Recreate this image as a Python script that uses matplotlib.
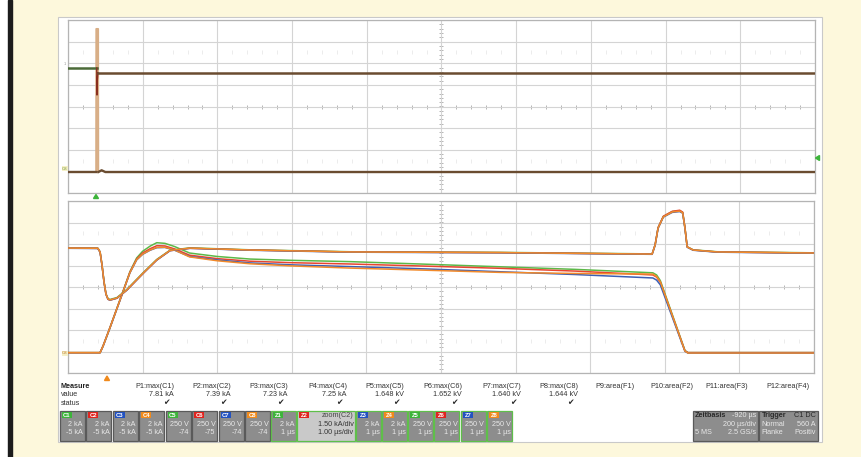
import numpy as np
import matplotlib
matplotlib.use("Agg")
import matplotlib.pyplot as plt
from matplotlib.patches import Rectangle, Polygon

plt.rcParams['font.family'] = ['Liberation Sans', 'DejaVu Sans']

W, H = 862, 457

# ---------------- data (screen divisions) ----------------
# upper window: main timebase 200 us/div
t_top_v = [0.0, 0.385, 0.388, 0.392, 0.400, 10.0]
v_top = [1.78, 1.78, 0.53, 1.20, 1.56, 1.56]
t_top_i = [0.0, 0.376, 0.378, 0.404, 0.406, 0.45, 0.50, 10.0]
i_top = [-3.03, -3.03, 3.59, 3.59, -3.03, -2.95, -3.03, -3.03]

# lower window: zoom 1 us/div, currents C1..C4
t_cur = [0.00, 0.43, 0.47, 0.56, 0.72, 0.83, 0.92, 1.00, 1.10, 1.19, 1.30, 1.43, 1.63,
         2.00, 2.44, 3.00, 3.78, 4.80, 5.79, 6.80, 7.84, 7.89, 7.94, 8.27, 8.31, 10.00]
i_c1 = [-3.05, -3.05, -2.74, -1.91, -0.37, 0.71, 1.35, 1.66, 1.90, 2.06, 2.03, 1.88, 1.58,
        1.42, 1.30, 1.24, 1.18, 1.06, 0.94, 0.82, 0.66, 0.56, 0.30, -2.95, -3.05, -3.05]
i_c2 = [-3.05, -3.05, -2.74, -1.91, -0.38, 0.69, 1.30, 1.58, 1.78, 1.92, 1.91, 1.77, 1.48,
        1.32, 1.20, 1.13, 1.07, 0.97, 0.87, 0.74, 0.56, 0.46, 0.22, -2.97, -3.05, -3.05]
i_c3 = [-3.06, -3.06, -2.76, -1.93, -0.40, 0.66, 1.26, 1.52, 1.71, 1.83, 1.84, 1.71, 1.42,
        1.26, 1.12, 1.03, 0.95, 0.84, 0.71, 0.58, 0.42, 0.32, 0.10, -2.99, -3.07, -3.07]
i_c4 = [-3.06, -3.06, -2.75, -1.92, -0.39, 0.67, 1.27, 1.53, 1.72, 1.84, 1.85, 1.72, 1.40,
        1.22, 1.08, 0.98, 0.88, 0.78, 0.68, 0.63, 0.60, 0.49, 0.24, -2.98, -3.07, -3.07]

# voltages C5..C8
t_volt = [0.00, 0.40, 0.43, 0.456, 0.483, 0.509, 0.536, 0.563, 0.657, 0.787, 1.009, 1.189,
          1.367, 1.635, 2.44, 3.78, 5.79, 7.83, 7.87, 7.91, 7.98, 8.10, 8.20, 8.24, 8.27,
          8.30, 8.38, 8.70, 10.00]
v_c5 = [1.82, 1.81, 1.64, 1.04, 0.25, -0.31, -0.54, -0.58, -0.49, -0.12, 0.67, 1.28, 1.71,
        1.82, 1.73, 1.64, 1.61, 1.54, 1.96, 2.76, 3.28, 3.51, 3.55, 3.47, 2.76, 1.87, 1.73,
        1.64, 1.59]
v_c6 = [1.81, 1.80, 1.62, 1.01, 0.22, -0.34, -0.57, -0.61, -0.52, -0.15, 0.64, 1.25, 1.69,
        1.80, 1.72, 1.63, 1.60, 1.53, 1.96, 2.76, 3.29, 3.52, 3.57, 3.48, 2.76, 1.87, 1.72,
        1.63, 1.58]
v_c7 = [1.80, 1.79, 1.62, 1.01, 0.22, -0.34, -0.57, -0.61, -0.52, -0.15, 0.64, 1.25, 1.69,
        1.80, 1.71, 1.62, 1.59, 1.52, 1.94, 2.73, 3.25, 3.47, 3.51, 3.43, 2.73, 1.85, 1.71,
        1.62, 1.57]
v_c8 = [1.81, 1.80, 1.63, 1.02, 0.23, -0.33, -0.56, -0.60, -0.51, -0.14, 0.65, 1.26, 1.70,
        1.81, 1.72, 1.63, 1.60, 1.53, 1.95, 2.74, 3.26, 3.49, 3.53, 3.45, 2.74, 1.86, 1.72,
        1.63, 1.58]

meas_headers = ["P1:max(C1)", "P2:max(C2)", "P3:max(C3)", "P4:max(C4)", "P5:max(C5)",
                "P6:max(C6)", "P7:max(C7)", "P8:max(C8)", "P9:area(F1)", "P10:area(F2)",
                "P11:area(F3)", "P12:area(F4)"]
meas_values = ["7.81 kA", "7.39 kA", "7.23 kA", "7.25 kA", "1.648 kV", "1.652 kV",
               "1.640 kV", "1.644 kV", "", "", "", ""]
meas_status = [True] * 8 + [False] * 4

chan_labels = ["C1", "C2", "C3", "C4", "C5", "C6", "C7", "C8",
               "Z1", "Z2", "Z3", "Z4", "Z5", "Z6", "Z7", "Z8"]
chan_line1 = ["2 kA", "2 kA", "2 kA", "2 kA", "250 V", "250 V", "250 V", "250 V",
              "2 kA", "1.50 kA/div", "2 kA", "2 kA", "250 V", "250 V", "250 V", "250 V"]
chan_line2 = ["-5 kA", "-5 kA", "-5 kA", "-5 kA", "-74", "-75", "-74", "-74",
              "1 µs", "1.00 µs/div", "1 µs", "1 µs", "1 µs", "1 µs", "1 µs", "1 µs"]

# ---------------- colours ----------------
GREEN, RED, BLUE, ORANGE = '#5cb848', '#e8452f', '#3c5fb4', '#f28a2a'
tab_cols = ['#3db43a', '#e0241f', '#2352c0', '#f08a1c'] * 4

fig = plt.figure(figsize=(W / 100, H / 100), dpi=100)
fig.patch.set_facecolor('#fdf8dc')

bg = fig.add_axes([0, 0, 1, 1], zorder=0)
bg.set_xlim(0, W); bg.set_ylim(H, 0); bg.axis('off')
bg.add_patch(Rectangle((0, 0), 8, H, color='white'))
bg.add_patch(Rectangle((8, 0), 4.5, H, color='#1c1c1c'))
bg.add_patch(Rectangle((58, 17), 764, 425, facecolor='white', edgecolor='#c9c9c9', lw=0.8))


def px_axes(x0, y0, x1, y1, z=2):
    return fig.add_axes([x0 / W, 1 - y1 / H, (x1 - x0) / W, (y1 - y0) / H], zorder=z)


def style(ax):
    ax.set_xlim(0, 10); ax.set_ylim(-4, 4)
    ax.set_facecolor('white')
    ax.set_xticks(range(11)); ax.set_yticks(range(-4, 5))
    ax.grid(True, color='#d4d4d4', lw=0.8)
    ax.tick_params(length=0, labelleft=False, labelbottom=False)
    for s in ax.spines.values():
        s.set_color('#b4b4b4'); s.set_linewidth(0.9)
    mx = np.arange(0, 10.01, 0.2)
    my = np.arange(-4, 4.01, 0.2)
    ax.plot(mx, np.zeros_like(mx), ls='none', marker='|', ms=3.2, mew=0.6, color='#a8a8a8', zorder=1)
    ax.axvline(5, color='#a6a6a6', lw=0.7, ls=(0, (1.2, 1.2)), zorder=1)
    ax.plot(np.full_like(my, 5), my, ls='none', marker='_', ms=3.2, mew=0.6, color='#a8a8a8', zorder=1)
    for yy in (2.5, -2.5):
        ax.plot(mx, np.full_like(mx, yy), ls='none', marker='|', ms=2.2, mew=0.5, color='#e4e4e4', zorder=1)


ax_top = px_axes(68, 20, 815, 193)
ax_bot = px_axes(68, 201, 814, 373)
style(ax_top); style(ax_bot)

# upper window traces
tv = np.array(t_top_v); vv = np.array(v_top)
ti = np.array(t_top_i); ii = np.array(i_top)
ax_top.fill_between(ti[1:5], ii[1:5], -3.03, color='#dcb48e', lw=0, zorder=3)
ax_top.plot(ti[1:5], ii[1:5], color='#d8ae86', lw=1.3, zorder=3)
ax_top.plot(ti[:2], ii[:2], color='#6a4c30', lw=1.7, zorder=4)
ax_top.plot(ti[4:], ii[4:], color='#6a4c30', lw=1.7, zorder=4)
ax_top.plot(tv[:2], vv[:2], color='#4b6a38', lw=1.8, zorder=4)
ax_top.plot(tv[1:5], vv[1:5], color='#8a2e1e', lw=1.0, zorder=4)
ax_top.plot(tv[4:], vv[4:], color='#6a4c30', lw=1.8, zorder=4)

# lower window traces
for vals, c in [(i_c1, GREEN), (i_c2, RED), (i_c3, BLUE), (i_c4, ORANGE)]:
    ax_bot.plot(t_cur, vals, color=c, lw=1.1, zorder=3)
for vals, c in [(v_c5, GREEN), (v_c6, RED), (v_c7, BLUE), (v_c8, ORANGE)]:
    ax_bot.plot(t_volt, vals, color=c, lw=1.1, zorder=3)

# ---------------- foreground (table, markers) ----------------
fg = fig.add_axes([0, 0, 1, 1], zorder=5)
fg.set_xlim(0, W); fg.set_ylim(H, 0); fg.axis('off'); fg.patch.set_alpha(0)

# markers
fg.add_patch(Polygon([(93.5, 198.5), (98.5, 198.5), (96, 194.5)], color='#3db43a'))
fg.add_patch(Polygon([(104.5, 380.5), (109.5, 380.5), (107, 376)], color='#f08a1c'))
fg.add_patch(Polygon([(819.5, 155.5), (819.5, 160.5), (815.5, 158)], color='#3db43a'))
fg.text(65, 168.5, 'C8', fontsize=3.2, color='#7f9a3a', ha='center', va='center',
        bbox=dict(boxstyle='square,pad=0.1', fc='#f4f0c8', ec='none'))
fg.text(65, 353.5, 'C8', fontsize=3.2, color='#c07a2a', ha='center', va='center',
        bbox=dict(boxstyle='square,pad=0.1', fc='#f4f0c8', ec='none'))
fg.text(64.5, 64, '1', fontsize=3, color='#9a9a9a', ha='center', va='center')

FS = 5.2
fg.text(61, 386, 'Measure', fontsize=FS, weight='bold', va='center', color='#222')
fg.text(61, 395, 'value', fontsize=FS, va='center', color='#333')
fg.text(61, 403.5, 'status', fontsize=FS, va='center', color='#333')
hdr_right = [174, 231, 288, 347, 404, 462, 521, 578, 635, 693, 748, 810]
for xr, h, v, s in zip(hdr_right, meas_headers, meas_values, meas_status):
    fg.text(xr, 386, h, fontsize=FS, ha='right', va='center', color='#333')
    if v:
        fg.text(xr, 395, v, fontsize=FS, ha='right', va='center', color='#333')
    if s:
        fg.text(xr - 4, 404, '✔', fontsize=FS + 0.5, ha='right', va='center', color='#2a2a2a')

# channel boxes
box_x = [(60, 85), (86.5, 111.5), (113, 138), (139.5, 164.5), (166, 191), (192.5, 217.5),
         (219, 244), (245.5, 270.5), (271.5, 296.5), (297.5, 355.5), (356.5, 381.5),
         (382.5, 407.5), (408.5, 433.5), (434.5, 459.5), (461, 486), (487.5, 512.5)]
for (x0, x1), lab, l1, l2, tc in zip(box_x, chan_labels, chan_line1, chan_line2, tab_cols):
    zoom = lab.startswith('Z')
    hl = lab == 'Z2'
    fc = '#c9c9c9' if hl else '#8d8d8d'
    ec = '#5fbf4a' if zoom else '#5a5a5a'
    fg.add_patch(Rectangle((x0, 411), x1 - x0, 29.5, facecolor=fc, edgecolor=ec, lw=0.9))
    fg.add_patch(Rectangle((x0 + 2, 412.3), 10, 5.6, facecolor=tc, edgecolor='none'))
    fg.text(x0 + 7, 415.2, lab, fontsize=4.2, color='white', ha='center', va='center', weight='bold')
    tcol = '#333333' if hl else '#e8e8e8'
    if hl:
        fg.text(x1 - 2, 415.5, 'zoom(C2)', fontsize=FS, ha='right', va='center', color='#444')
    fg.text(x1 - 2, 424, l1, fontsize=FS, ha='right', va='center', color=tcol)
    fg.text(x1 - 2, 432, l2, fontsize=FS, ha='right', va='center', color=tcol)

# timebase / trigger boxes
fg.add_patch(Rectangle((693, 411), 65, 29.5, facecolor='#8d8d8d', edgecolor='#5a5a5a', lw=0.9))
fg.add_patch(Rectangle((759.5, 411), 58.5, 29.5, facecolor='#8d8d8d', edgecolor='#5a5a5a', lw=0.9))
fg.text(695, 415.5, 'Zeitbasis', fontsize=FS, weight='bold', va='center', color='#2a2a2a')
fg.text(756, 415.5, '-920 µs', fontsize=FS, ha='right', va='center', color='#e8e8e8')
fg.text(756, 424, '200 µs/div', fontsize=FS, ha='right', va='center', color='#e8e8e8')
fg.text(695, 432, '5 MS', fontsize=FS, va='center', color='#e8e8e8')
fg.text(756, 432, '2.5 GS/s', fontsize=FS, ha='right', va='center', color='#e8e8e8')
fg.text(761.5, 415.5, 'Trigger', fontsize=FS, weight='bold', va='center', color='#2a2a2a')
fg.text(816, 415.5, 'C1 DC', fontsize=FS, ha='right', va='center', color='#2a2a2a')
fg.text(761.5, 424, 'Normal', fontsize=FS, va='center', color='#e8e8e8')
fg.text(816, 424, '560 A', fontsize=FS, ha='right', va='center', color='#e8e8e8')
fg.text(761.5, 432, 'Flanke', fontsize=FS, va='center', color='#e8e8e8')
fg.text(816, 432, 'Positiv', fontsize=FS, ha='right', va='center', color='#e8e8e8')

fig.savefig('out.png', dpi=100, facecolor=fig.get_facecolor())
